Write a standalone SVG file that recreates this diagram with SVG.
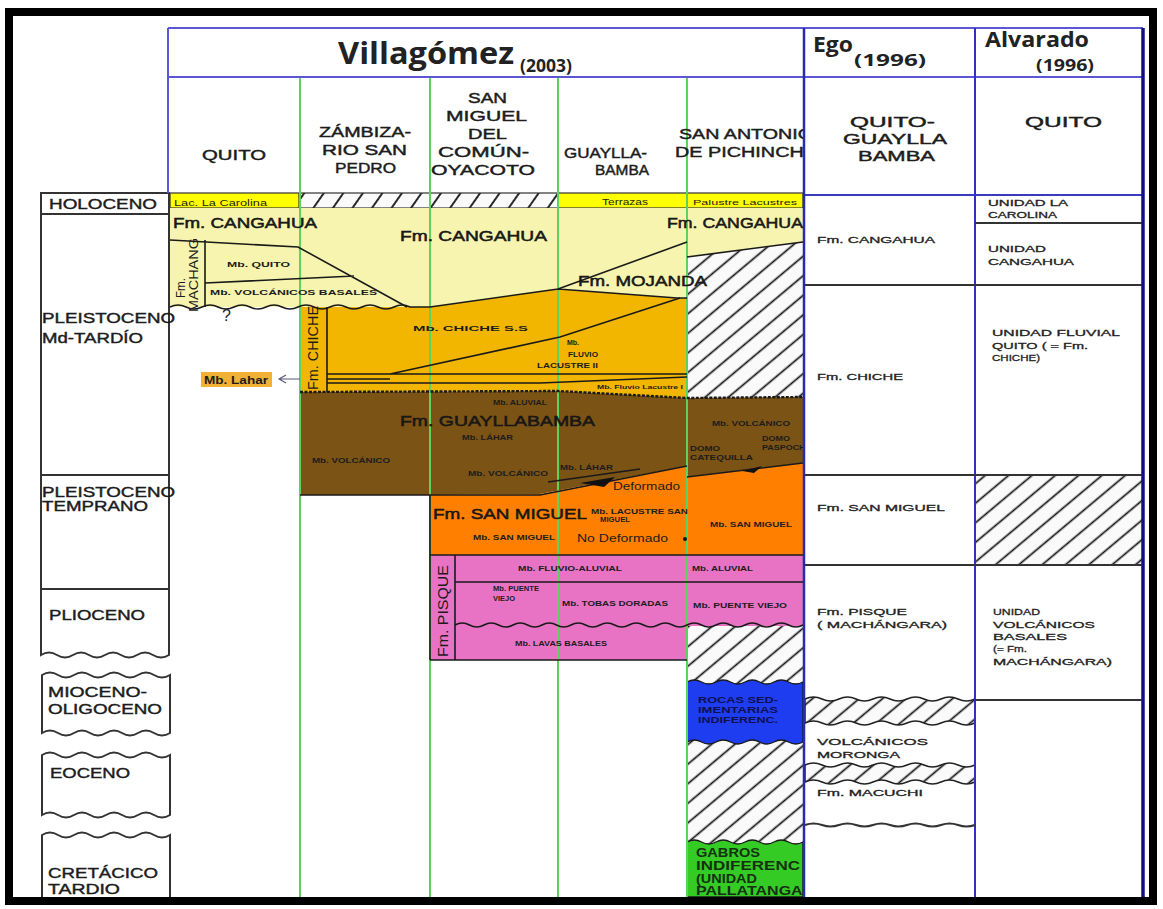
<svg xmlns="http://www.w3.org/2000/svg" width="1163" height="909" viewBox="0 0 1163 909">
<defs>
<style>
text{font-family:"Liberation Sans",Arial,sans-serif;fill:#1c1c1c}
.ttl{font-family:"Open Sans","Liberation Sans",sans-serif;font-weight:bold;fill:#222}
.hd{font-size:15px;stroke:#1c1c1c;stroke-width:0.45}
.tm{font-size:14px;stroke:#1c1c1c;stroke-width:0.4}
.big{font-size:15px;stroke:#111;stroke-width:0.5}
.sm{font-size:7px;font-weight:bold}
.lb{font-size:9px;fill:#222;stroke:#222;stroke-width:0.3}
.ln{stroke:#1a1a1a;stroke-width:1.6;fill:none}
.gl{stroke:#5cd35c;stroke-width:2;fill:none}
.bx{stroke:#333;stroke-width:2}
.row{stroke:#333;stroke-width:2;fill:none}
</style>
<pattern id="hatch" width="15" height="15" patternUnits="userSpaceOnUse" patternTransform="rotate(-40)"><rect width="15" height="15" fill="#fafafa"/><line x1="0" y1="7.5" x2="15" y2="7.5" stroke="#111" stroke-width="1.7"/></pattern>
<pattern id="hatch2" width="16" height="16" patternUnits="userSpaceOnUse" patternTransform="rotate(-55)"><rect width="16" height="16" fill="#fafafa"/><line x1="0" y1="8" x2="16" y2="8" stroke="#111" stroke-width="1.8"/></pattern>
<clipPath id="clipSA"><rect x="600" y="78" width="203" height="820"/></clipPath>
</defs>
<rect x="0" y="0" width="1163" height="909" fill="#fff"/>

<g id="time-scale">
<path class="bx" fill="#fff" d="M41 193 H169 V655 q-8 5 -16 0 t-16 0 t-16 0 t-16 0 t-16 0 t-16 0 t-16 0 t-16 0 Z"/>
<path class="bx" d="M41 214 H169 M41 475 H169 M41 589 H169"/>
<path class="bx" fill="#fff" d="M42 675 q8 -5 16 0 t16 0 t16 0 t16 0 t16 0 t16 0 t16 0 t16 0 L170 733 q-8 5 -16 0 t-16 0 t-16 0 t-16 0 t-16 0 t-16 0 t-16 0 t-16 0 Z"/>
<path class="bx" fill="#fff" d="M42 755 q8 -5 16 0 t16 0 t16 0 t16 0 t16 0 t16 0 t16 0 t16 0 L170 815 q-8 5 -16 0 t-16 0 t-16 0 t-16 0 t-16 0 t-16 0 t-16 0 t-16 0 Z"/>
<path class="bx" fill="#fff" d="M42 835 q8 -5 16 0 t16 0 t16 0 t16 0 t16 0 t16 0 t16 0 t16 0 L170 899 H42 Z"/>
<text class="tm" x="49" y="209" textLength="108" lengthAdjust="spacingAndGlyphs">HOLOCENO</text>
<text class="tm" x="42" y="323" textLength="133" lengthAdjust="spacingAndGlyphs">PLEISTOCENO</text>
<text class="tm" x="42" y="343" textLength="101" lengthAdjust="spacingAndGlyphs">Md-TARDÍO</text>
<text class="tm" x="42" y="497" textLength="133" lengthAdjust="spacingAndGlyphs">PLEISTOCENO</text>
<text class="tm" x="42" y="511" textLength="106" lengthAdjust="spacingAndGlyphs">TEMPRANO</text>
<text class="tm" x="49" y="620" textLength="96" lengthAdjust="spacingAndGlyphs">PLIOCENO</text>
<text class="tm" x="48" y="697" textLength="99" lengthAdjust="spacingAndGlyphs">MIOCENO-</text>
<text class="tm" x="48" y="714" textLength="114" lengthAdjust="spacingAndGlyphs">OLIGOCENO</text>
<text class="tm" x="50" y="778" textLength="80" lengthAdjust="spacingAndGlyphs">EOCENO</text>
<text class="tm" x="48" y="878" textLength="110" lengthAdjust="spacingAndGlyphs">CRETÁCICO</text>
<text class="tm" x="48" y="894" textLength="72" lengthAdjust="spacingAndGlyphs">TARDIO</text>
</g>

<g id="fills">
<rect x="170" y="193" width="129" height="15" fill="#ffff00" stroke="#333" stroke-width="1.2"/>
<rect x="300" y="193" width="258" height="15" fill="url(#hatch2)" stroke="#333" stroke-width="1.2"/>
<rect x="558" y="193" width="129" height="15" fill="#ffff00" stroke="#333" stroke-width="1.2"/>
<rect x="687" y="193" width="116" height="15" fill="#ffff00" stroke="#333" stroke-width="1.2"/>
<path d="M170 208 H803 V400 H300 V307 H170 Z" fill="#f6f4ae"/>
<polygon points="687,257 803,242 803,398 687,398" fill="url(#hatch)"/>
<polygon points="300,307 430,307 558,289 677,298 687,298 687,398 558,391 300,392" fill="#f2b600"/>
<polygon points="300,392 558,391 687,398 803,397 803,463 687,477 687,466 540,494 430,495 300,495" fill="#7b5315"/>
<polygon points="430,495 540,494 687,466 687,477 803,463 803,555 430,555" fill="#ff8000"/>
<rect x="687" y="618" width="116" height="279" fill="url(#hatch)"/>
<polygon points="430,555 803,555 803,626 687,626 687,660 430,660" fill="#e873c5"/>
<path d="M687 682 q7.25 -4 14.5 0 t14.5 0 t14.5 0 t14.5 0 t14.5 0 t14.5 0 t14.5 0 t14.5 0 L803 742 q-7.25 4 -14.5 0 t-14.5 0 t-14.5 0 t-14.5 0 t-14.5 0 t-14.5 0 t-14.5 0 t-14.5 0 Z" fill="#1e3cf0" stroke="#1a1a1a" stroke-width="1.4"/>
<path d="M687 842 q7.25 -4 14.5 0 t14.5 0 t14.5 0 t14.5 0 t14.5 0 t14.5 0 t14.5 0 t14.5 0 L803 897 H687 Z" fill="#34cc24" stroke="#1a1a1a" stroke-width="1.4"/>
<rect x="976" y="476" width="166" height="88" fill="url(#hatch)"/>
<path d="M805 699 q8.5 -4 17 0 t17 0 t17 0 t17 0 t17 0 t17 0 t17 0 t17 0 t17 0 t17 0 L975 723 q-8.5 4 -17 0 t-17 0 t-17 0 t-17 0 t-17 0 t-17 0 t-17 0 t-17 0 t-17 0 t-17 0 Z" fill="url(#hatch)" stroke="#222" stroke-width="1.5"/>
<path d="M805 765 q8.5 -4 17 0 t17 0 t17 0 t17 0 t17 0 t17 0 t17 0 t17 0 t17 0 t17 0 L975 782 q-8.5 4 -17 0 t-17 0 t-17 0 t-17 0 t-17 0 t-17 0 t-17 0 t-17 0 t-17 0 t-17 0 Z" fill="url(#hatch)" stroke="#222" stroke-width="1.5"/>
</g>

<g id="grid">
<path class="gl" d="M300 77 V897 M430 77 V897 M558 77 V897 M687 77 V897"/>
<path d="M168 28 H1143 M168 77 H1143 M168 28 V193" stroke="#5b56d6" stroke-width="2" fill="none"/>
<path d="M804 195 H1143" stroke="#3a3ac0" stroke-width="2"/>
<path d="M804 28 V897" stroke="#2a2ab0" stroke-width="2.5"/>
<path d="M975 28 V897" stroke="#3030c8" stroke-width="2"/>
<path d="M1143 28 V897" stroke="#101080" stroke-width="3.5"/>
<path class="row" d="M805 285 H1142 M805 475 H1142 M805 565 H1142 M975 223 H1142 M975 700 H1142"/>
<path class="row" stroke-width="1.5" d="M805 825 q8.5 -3 17 0 t17 0 t17 0 t17 0 t17 0 t17 0 t17 0 t17 0 t17 0 t17 0"/>
</g>

<g id="contacts">
<path class="ln" d="M170 240 L298 247 L407 307 M205 240 V307 M205 283 L354 276"/>
<path class="ln" d="M170 307 q8 -4 16 0 t16 0 t16 0 t16 0 t16 0 t16 0 t16 0 t16 0 t16 0 t16 0 t16 0 t16 0 t16 0 t16 0 t16 0"/>
<path class="ln" d="M410 307 H430 L558 289 L687 242 M558 289 L677 298 L687 298 M687 257 L803 242"/>
<path class="ln" d="M327 307 V392 M327 374 H687 M390 374 L560 337 L680 298 M327 379 H390 M327 383 H540 L687 377"/>
<path d="M300 392 L558 391 L687 398 L803 397" stroke="#1a1a1a" stroke-width="2.4" stroke-dasharray="3 1.5" fill="none"/>
<path class="ln" d="M300 495 H540 L687 466 M687 477 L803 463 M548 482 L640 469 M430 495 V660"/>
<polygon points="580,483 615,477 604,487" fill="#111"/>
<polygon points="742,471 762,466 754,473" fill="#111"/>
<path class="ln" d="M430 555 H803 M430 660 H687 M455 555 V660 M455 582 H803"/>
<path class="ln" d="M455 625 q7.25 -4 14.5 0 t14.5 0 t14.5 0 t14.5 0 t14.5 0 t14.5 0 t14.5 0 t14.5 0 t14.5 0 t14.5 0 t14.5 0 t14.5 0 t14.5 0 t14.5 0 t14.5 0 t14.5 0 t14.5 0 t14.5 0 t14.5 0 t14.5 0 t14.5 0 t14.5 0 t14.5 0 t14.5 0"/>
<circle cx="685" cy="539" r="2" fill="#111"/>
</g>

<g id="connectors">
<path d="M300 379 H280 M286 375 L279 379 L286 383" stroke="#55587a" stroke-width="1.1" fill="none"/>
</g>

<g id="title">
<text class="ttl" x="338" y="64" font-size="30" textLength="176" lengthAdjust="spacingAndGlyphs">Villagómez</text>
<text class="ttl" x="520" y="72" font-size="17" textLength="52" lengthAdjust="spacingAndGlyphs">(2003)</text>
<text class="ttl" x="813" y="52" font-size="22" textLength="40" lengthAdjust="spacingAndGlyphs">Ego</text>
<text class="ttl" x="854" y="66" font-size="16" textLength="72" lengthAdjust="spacingAndGlyphs">(1996)</text>
<text class="ttl" x="985" y="47" font-size="22" textLength="104" lengthAdjust="spacingAndGlyphs">Alvarado</text>
<text class="ttl" x="1036" y="71" font-size="16" textLength="58" lengthAdjust="spacingAndGlyphs">(1996)</text>
</g>

<g id="col-headers">
<text class="hd" x="202" y="160" textLength="64" lengthAdjust="spacingAndGlyphs">QUITO</text>
<text class="hd" x="319" y="137" textLength="92" lengthAdjust="spacingAndGlyphs">ZÁMBIZA-</text>
<text class="hd" x="322" y="155" textLength="85" lengthAdjust="spacingAndGlyphs">RIO SAN</text>
<text class="hd" x="335" y="173" textLength="61" lengthAdjust="spacingAndGlyphs">PEDRO</text>
<text class="hd" x="468" y="103" textLength="39" lengthAdjust="spacingAndGlyphs">SAN</text>
<text class="hd" x="446" y="121" textLength="81" lengthAdjust="spacingAndGlyphs">MIGUEL</text>
<text class="hd" x="468" y="139" textLength="39" lengthAdjust="spacingAndGlyphs">DEL</text>
<text class="hd" x="438" y="157" textLength="91" lengthAdjust="spacingAndGlyphs">COMÚN-</text>
<text class="hd" x="431" y="175" textLength="104" lengthAdjust="spacingAndGlyphs">OYACOTO</text>
<text class="hd" x="564" y="158" textLength="83" lengthAdjust="spacingAndGlyphs">GUAYLLA-</text>
<text class="hd" x="595" y="175" textLength="54" lengthAdjust="spacingAndGlyphs">BAMBA</text>
<g clip-path="url(#clipSA)">
<text class="hd" x="679" y="139" textLength="134" lengthAdjust="spacingAndGlyphs">SAN ANTONIO</text>
<text class="hd" x="675" y="157" textLength="142" lengthAdjust="spacingAndGlyphs">DE PICHINCHA</text>
</g>
<text class="hd" x="850" y="127" textLength="85" lengthAdjust="spacingAndGlyphs">QUITO-</text>
<text class="hd" x="843" y="144" textLength="104" lengthAdjust="spacingAndGlyphs">GUAYLLA</text>
<text class="hd" x="858" y="161" textLength="77" lengthAdjust="spacingAndGlyphs">BAMBA</text>
<text class="hd" x="1025" y="127" textLength="77" lengthAdjust="spacingAndGlyphs">QUITO</text>
</g>

<g id="fm-cangahua">
<text x="174" y="206" font-size="9" textLength="93" lengthAdjust="spacingAndGlyphs">Lac. La Carolina</text>
<text x="602" y="205" font-size="9" textLength="46" lengthAdjust="spacingAndGlyphs">Terrazas</text>
<text x="693" y="205" font-size="8" textLength="104" lengthAdjust="spacingAndGlyphs">Palustre Lacustres</text>
<text class="big" x="173" y="228" textLength="144" lengthAdjust="spacingAndGlyphs">Fm. CANGAHUA</text>
<text class="big" x="400" y="241" textLength="147" lengthAdjust="spacingAndGlyphs">Fm. CANGAHUA</text>
<text class="big" x="667" y="228" textLength="136" lengthAdjust="spacingAndGlyphs">Fm. CANGAHUA</text>
<text class="sm" x="227" y="267" textLength="63" lengthAdjust="spacingAndGlyphs">Mb. QUITO</text>
<text class="sm" x="210" y="295" font-size="8" textLength="167" lengthAdjust="spacingAndGlyphs">Mb. VOLCÁNICOS BASALES</text>
<text x="222" y="321" font-size="16">?</text>
<text transform="translate(185,288) rotate(-90)" text-anchor="middle" font-size="12" textLength="20" lengthAdjust="spacingAndGlyphs">Fm.</text>
<text transform="translate(198,275) rotate(-90)" text-anchor="middle" font-size="12" textLength="74" lengthAdjust="spacingAndGlyphs">MACHANG</text>
<text class="big" x="578" y="286" textLength="129" lengthAdjust="spacingAndGlyphs">Fm. MOJANDA</text>
</g>

<g id="fm-chiche">
<text transform="translate(318,348) rotate(-90)" text-anchor="middle" font-size="14" textLength="84" lengthAdjust="spacingAndGlyphs">Fm. CHICHE</text>
<text class="sm" x="413" y="331" font-size="8" textLength="115" lengthAdjust="spacingAndGlyphs">Mb. CHICHE S.S</text>
<text class="sm" x="567" y="345">Mb.</text>
<text class="sm" x="568" y="357" textLength="30" lengthAdjust="spacingAndGlyphs">FLUVIO</text>
<text class="sm" x="537" y="368" textLength="61" lengthAdjust="spacingAndGlyphs">LACUSTRE II</text>
<text x="597" y="389" font-size="6" font-weight="bold" textLength="86" lengthAdjust="spacingAndGlyphs">Mb. Fluvio Lacustre I</text>
<rect x="201" y="372" width="71" height="15" fill="#f2b035"/>
<text x="204" y="384" font-size="10.5" font-weight="bold" textLength="64" lengthAdjust="spacingAndGlyphs">Mb. Lahar</text>
</g>

<g id="fm-guayllabamba">
<text class="sm" x="493" y="405" font-size="6" textLength="54" lengthAdjust="spacingAndGlyphs">Mb. ALUVIAL</text>
<text class="big" x="400" y="426" textLength="195" lengthAdjust="spacingAndGlyphs">Fm. GUAYLLABAMBA</text>
<text class="sm" x="462" y="440" font-size="6" textLength="51" lengthAdjust="spacingAndGlyphs">Mb. LÁHAR</text>
<text class="sm" x="312" y="463" textLength="78" lengthAdjust="spacingAndGlyphs">Mb. VOLCÁNICO</text>
<text class="sm" x="468" y="476" textLength="80" lengthAdjust="spacingAndGlyphs">Mb. VOLCÁNICO</text>
<text class="sm" x="560" y="470" textLength="53" lengthAdjust="spacingAndGlyphs">Mb. LÁHAR</text>
<text x="613" y="490" font-size="10" textLength="67" lengthAdjust="spacingAndGlyphs">Deformado</text>
<g clip-path="url(#clipSA)">
<text class="sm" x="712" y="426" textLength="78" lengthAdjust="spacingAndGlyphs">Mb. VOLCÁNICO</text>
<text class="sm" x="690" y="451" textLength="30" lengthAdjust="spacingAndGlyphs">DOMO</text>
<text class="sm" x="690" y="460" textLength="63" lengthAdjust="spacingAndGlyphs">CATEQUILLA</text>
<text class="sm" x="762" y="441" textLength="28" lengthAdjust="spacingAndGlyphs">DOMO</text>
<text class="sm" x="762" y="450" textLength="50" lengthAdjust="spacingAndGlyphs">PASPOCHA</text>
</g>
</g>

<g id="fm-san-miguel">
<text class="big" x="433" y="519" textLength="154" lengthAdjust="spacingAndGlyphs">Fm. SAN MIGUEL</text>
<text class="sm" x="591" y="514" font-size="6" textLength="97" lengthAdjust="spacingAndGlyphs">Mb. LACUSTRE SAN</text>
<text class="sm" x="600" y="522" font-size="6" textLength="30" lengthAdjust="spacingAndGlyphs">MIGUEL</text>
<text class="sm" x="473" y="540" font-size="6" textLength="82" lengthAdjust="spacingAndGlyphs">Mb. SAN MIGUEL</text>
<text x="577" y="542" font-size="10" textLength="91" lengthAdjust="spacingAndGlyphs">No Deformado</text>
<text class="sm" x="710" y="527" font-size="6" textLength="82" lengthAdjust="spacingAndGlyphs">Mb. SAN MIGUEL</text>
</g>

<g id="fm-pisque">
<text transform="translate(448,611) rotate(-90)" text-anchor="middle" font-size="14" textLength="92" lengthAdjust="spacingAndGlyphs">Fm. PISQUE</text>
<text class="sm" x="518" y="571" font-size="6" textLength="104" lengthAdjust="spacingAndGlyphs">Mb. FLUVIO-ALUVIAL</text>
<text class="sm" x="692" y="571" font-size="6" textLength="61" lengthAdjust="spacingAndGlyphs">Mb. ALUVIAL</text>
<text class="sm" x="493" y="591" font-size="6" textLength="46" lengthAdjust="spacingAndGlyphs">Mb. PUENTE</text>
<text class="sm" x="493" y="601" font-size="6" textLength="22" lengthAdjust="spacingAndGlyphs">VIEJO</text>
<text class="sm" x="562" y="606" font-size="6" textLength="106" lengthAdjust="spacingAndGlyphs">Mb. TOBAS DORADAS</text>
<text class="sm" x="693" y="608" font-size="6" textLength="94" lengthAdjust="spacingAndGlyphs">Mb. PUENTE VIEJO</text>
<text class="sm" x="515" y="646" font-size="6" textLength="92" lengthAdjust="spacingAndGlyphs">Mb. LAVAS BASALES</text>
</g>

<g id="basement-san-antonio" clip-path="url(#clipSA)">
<text x="698" y="703" font-size="9" font-weight="bold" style="fill:#101050" textLength="80" lengthAdjust="spacingAndGlyphs">ROCAS SED-</text>
<text x="698" y="713" font-size="9" font-weight="bold" style="fill:#101050" textLength="80" lengthAdjust="spacingAndGlyphs">IMENTARIAS</text>
<text x="698" y="723" font-size="9" font-weight="bold" style="fill:#101050" textLength="80" lengthAdjust="spacingAndGlyphs">INDIFERENC.</text>
<text x="696" y="857" font-size="12" font-weight="bold" style="fill:#143010" textLength="64" lengthAdjust="spacingAndGlyphs">GABROS</text>
<text x="696" y="870" font-size="12" font-weight="bold" style="fill:#143010" textLength="104" lengthAdjust="spacingAndGlyphs">INDIFERENC</text>
<text x="696" y="883" font-size="12" font-weight="bold" style="fill:#143010" textLength="61" lengthAdjust="spacingAndGlyphs">(UNIDAD</text>
<text x="696" y="895" font-size="12" font-weight="bold" style="fill:#143010" textLength="112" lengthAdjust="spacingAndGlyphs">PALLATANGA)</text>
</g>

<g id="col-ego">
<text class="lb" x="817" y="243" textLength="118" lengthAdjust="spacingAndGlyphs">Fm. CANGAHUA</text>
<text class="lb" x="817" y="380" textLength="86" lengthAdjust="spacingAndGlyphs">Fm. CHICHE</text>
<text class="lb" x="817" y="511" textLength="128" lengthAdjust="spacingAndGlyphs">Fm. SAN MIGUEL</text>
<text class="lb" x="817" y="615" textLength="90" lengthAdjust="spacingAndGlyphs">Fm. PISQUE</text>
<text class="lb" x="817" y="628" textLength="130" lengthAdjust="spacingAndGlyphs">( MACHÁNGARA)</text>
<text class="lb" x="817" y="745" textLength="111" lengthAdjust="spacingAndGlyphs">VOLCÁNICOS</text>
<text class="lb" x="817" y="758" textLength="83" lengthAdjust="spacingAndGlyphs">MORONGA</text>
<text class="lb" x="817" y="796" textLength="106" lengthAdjust="spacingAndGlyphs">Fm. MACUCHI</text>
</g>

<g id="col-alvarado">
<text class="lb" x="988" y="206" textLength="80" lengthAdjust="spacingAndGlyphs">UNIDAD LA</text>
<text class="lb" x="988" y="218" textLength="69" lengthAdjust="spacingAndGlyphs">CAROLINA</text>
<text class="lb" x="988" y="252" textLength="58" lengthAdjust="spacingAndGlyphs">UNIDAD</text>
<text class="lb" x="988" y="265" textLength="86" lengthAdjust="spacingAndGlyphs">CANGAHUA</text>
<text class="lb" x="992" y="336" textLength="128" lengthAdjust="spacingAndGlyphs">UNIDAD FLUVIAL</text>
<text class="lb" x="992" y="349" textLength="96" lengthAdjust="spacingAndGlyphs">QUITO ( = Fm.</text>
<text class="lb" x="992" y="361" textLength="48" lengthAdjust="spacingAndGlyphs">CHICHE)</text>
<text class="lb" x="993" y="615" textLength="47" lengthAdjust="spacingAndGlyphs">UNIDAD</text>
<text class="lb" x="993" y="628" textLength="102" lengthAdjust="spacingAndGlyphs">VOLCÁNICOS</text>
<text class="lb" x="993" y="640" textLength="74" lengthAdjust="spacingAndGlyphs">BASALES</text>
<text class="lb" x="993" y="652" textLength="34" lengthAdjust="spacingAndGlyphs">(= Fm.</text>
<text class="lb" x="993" y="665" textLength="119" lengthAdjust="spacingAndGlyphs">MACHÁNGARA)</text>
</g>

<g id="frame">
<rect x="9" y="12" width="1144" height="889" fill="none" stroke="#000" stroke-width="8"/>
</g>
</svg>
